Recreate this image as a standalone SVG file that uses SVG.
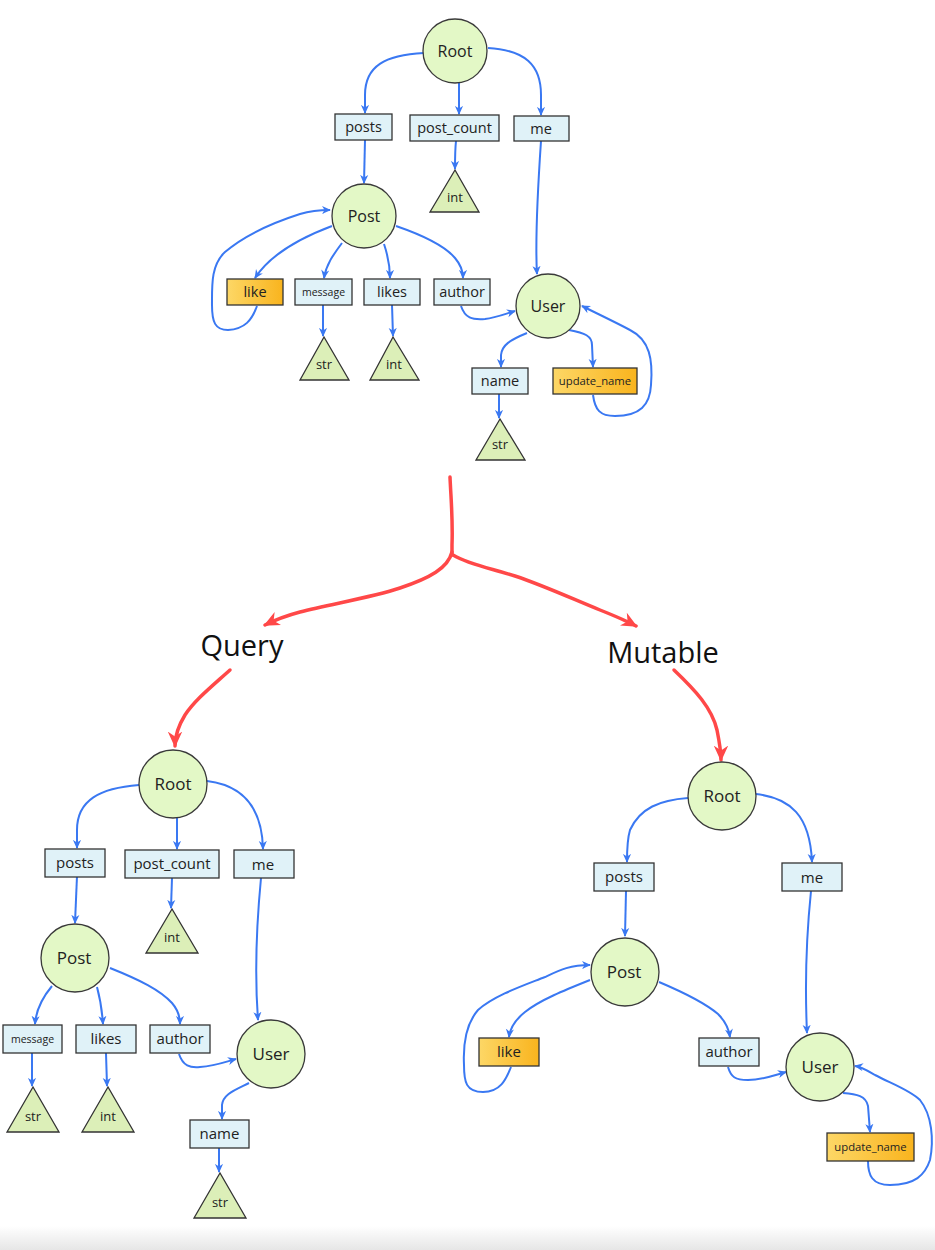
<svg xmlns="http://www.w3.org/2000/svg" width="935" height="1250" viewBox="0 0 935 1250">
<style>
.c{fill:#e3f8c6;stroke:#3a3a3a;stroke-width:1.3}
.r{fill:#e0f2f8;stroke:#333;stroke-width:1.3}
.o{fill:url(#og);stroke:#333;stroke-width:1.3}
.t{fill:#dcefb8;stroke:#333;stroke-width:1.3}
text{font-family:"Open Sans","Noto Sans","Liberation Sans",sans-serif;fill:#222;text-anchor:middle}
.l{font-size:14.5px}
.L{font-size:15px}
.s{font-size:10.5px}
.u{font-size:11.3px}
.n{font-size:16px}
.N{font-size:17px}
.tt{font-size:13px}
.big{font-size:29px;fill:#111}
.e{fill:none;stroke:#3a78f2;stroke-width:2;marker-end:url(#ab)}
.re{fill:none;stroke:#ff4848;stroke-width:3.5;stroke-linecap:round;marker-end:url(#ar)}
.rl{fill:none;stroke:#ff4848;stroke-width:3.5;stroke-linecap:round}
</style>
<defs>
<linearGradient id="og" x1="0" y1="0" x2="1" y2="0"><stop offset="0" stop-color="#fdd766"/><stop offset="1" stop-color="#f9b41e"/></linearGradient>
<linearGradient id="bg" x1="0" y1="0" x2="0" y2="1"><stop offset="0" stop-color="#ffffff"/><stop offset="1" stop-color="#e6e6e6"/></linearGradient>
<marker id="ab" viewBox="0 0 10 10" refX="9" refY="5" markerWidth="9" markerHeight="9" markerUnits="userSpaceOnUse" orient="auto"><path d="M0,0.5 L10,5 L0,9.5 L3,5 z" fill="#3a78f2"/></marker>
<marker id="ar" viewBox="0 0 10 10" refX="9" refY="5" markerWidth="16" markerHeight="16" markerUnits="userSpaceOnUse" orient="auto"><path d="M0,0.5 L10,5 L0,9.5 L3,5 z" fill="#ff4848"/></marker>
</defs>
<rect x="0" y="0" width="935" height="1250" fill="#ffffff"/>
<rect x="0" y="1226" width="935" height="24" fill="url(#bg)"/>

<g id="connectors">
<!-- top graph -->
<path class="e" d="M424,53 C385,55 365,66 365,95 L365,113"/>
<path class="e" d="M459,83 L459,114"/>
<path class="e" d="M488,48 C525,50 541,65 541,95 L541,115"/>
<path class="e" d="M365,140 L364,183"/>
<path class="e" d="M456,141 C455,150 455,160 455,169"/>
<path class="e" d="M541,141 C537,200 535,240 537,274"/>
<path class="e" d="M332,226 C300,238 270,255 255,278"/>
<path class="e" d="M257,306 C252,320 245,329 228,330 C215,330 212,322 212,305 C212,285 211,265 225,252 C245,235 275,222 300,214 C310,211 318,210 330,210"/>
<path class="e" d="M342,243 C333,255 326,265 324,278"/>
<path class="e" d="M384,244 C388,256 390,266 390,278"/>
<path class="e" d="M396,226 C425,236 445,246 455,258 C461,265 463,272 463,278"/>
<path class="e" d="M323,305 L323,336"/>
<path class="e" d="M392,305 L393,336"/>
<path class="e" d="M461,306 C465,318 472,320 485,319 C495,318 505,314 515,311"/>
<path class="e" d="M527,333 C510,340 502,345 501,355 L501,367"/>
<path class="e" d="M499,394 L499,418"/>
<path class="e" d="M569,330 C585,333 592,336 592,345 L593,367"/>
<path class="e" d="M593,395 C595,410 600,416 615,416 C640,416 650,405 651,385 C653,360 650,340 630,330 C615,322 600,315 582,306"/>
<!-- red split -->
<path class="rl" d="M450,477 C451,500 453,520 452,545 C452,550 452,553 452,555"/>
<path class="re" d="M452,552 C448,568 430,578 400,588 C370,598 330,604 300,612 C285,616 275,620 265,625"/>
<path class="re" d="M453,555 C470,565 490,568 515,576 C545,586 575,600 600,610 C615,616 625,620 636,626"/>
<path class="re" d="M230,670 C210,688 195,700 185,715 C177,728 175,738 175,746"/>
<path class="re" d="M674,670 C695,690 712,708 717,730 C720,745 721,752 721,760"/>
<!-- bottom-left graph -->
<path class="e" d="M139,785 C100,788 77,800 77,830 L77,848"/>
<path class="e" d="M177,818 L177,849"/>
<path class="e" d="M207,781 C240,785 262,805 263,849"/>
<path class="e" d="M77,876 L75,923"/>
<path class="e" d="M172,878 L171,908"/>
<path class="e" d="M261,878 C256,930 255,980 258,1020"/>
<path class="e" d="M52,986 C42,998 36,1010 35,1024"/>
<path class="e" d="M97,987 C100,998 102,1010 103,1024"/>
<path class="e" d="M110,968 C140,980 160,990 172,1003 C178,1010 180,1018 180,1024"/>
<path class="e" d="M32,1053 L32,1086"/>
<path class="e" d="M106,1053 L107,1086"/>
<path class="e" d="M179,1054 C183,1066 190,1068 200,1067 C215,1066 225,1062 236,1059"/>
<path class="e" d="M249,1083 C235,1090 223,1094 222,1105 L222,1119"/>
<path class="e" d="M219,1148 L219,1172"/>
<!-- bottom-right graph -->
<path class="e" d="M688,798 C660,800 640,808 630,830 C627,840 627,850 627,862"/>
<path class="e" d="M756,794 C790,798 810,815 812,862"/>
<path class="e" d="M626,891 L625,936"/>
<path class="e" d="M811,891 C806,940 805,990 807,1033"/>
<path class="e" d="M590,980 C565,990 540,1000 525,1012 C515,1020 510,1028 509,1037"/>
<path class="e" d="M511,1067 C506,1080 500,1092 483,1092 C466,1092 464,1082 464,1065 C463,1045 465,1025 478,1010 C495,995 525,985 545,977 C560,970 570,965 590,965"/>
<path class="e" d="M659,982 C685,993 705,1003 718,1014 C726,1022 729,1030 730,1037"/>
<path class="e" d="M728,1067 C731,1077 735,1080 748,1080 C762,1080 772,1076 786,1072"/>
<path class="e" d="M843,1093 C857,1094 866,1096 868,1106 L870,1132"/>
<path class="e" d="M868,1161 C868,1175 872,1185 890,1185 C915,1185 925,1175 930,1160 C934,1140 932,1115 920,1100 C910,1090 890,1083 875,1075 C868,1071 862,1067 855,1066"/>
</g>

<!-- top graph nodes -->
<g id="t-root"><circle class="c" cx="455" cy="51" r="32"/><text class="n" x="455" y="57">Root</text></g>
<g id="t-posts"><rect class="r" x="335" y="114" width="57" height="26"/><text class="l" x="363.5" y="132">posts</text></g>
<g id="t-post_count"><rect class="r" x="410" y="115" width="89" height="26"/><text class="l" x="454.5" y="133">post_count</text></g>
<g id="t-me"><rect class="r" x="514" y="116" width="55" height="25"/><text class="l" x="541" y="134">me</text></g>
<g id="t-int1"><polygon class="t" points="455,170 430,212 479,212"/><text class="tt" x="455" y="202">int</text></g>
<g id="t-post"><circle class="c" cx="364" cy="216" r="32"/><text class="n" x="364" y="222">Post</text></g>
<g id="t-like"><rect class="o" x="227" y="279" width="56" height="26"/><text class="l" x="255" y="297">like</text></g>
<g id="t-message"><rect class="r" x="295" y="279" width="57" height="26"/><text class="s" x="323.5" y="296">message</text></g>
<g id="t-likes"><rect class="r" x="364" y="279" width="56" height="26"/><text class="l" x="392" y="297">likes</text></g>
<g id="t-author"><rect class="r" x="434" y="279" width="56" height="26"/><text class="l" x="462" y="297">author</text></g>
<g id="t-str1"><polygon class="t" points="324,337 300,380 349,380"/><text class="tt" x="324" y="369">str</text></g>
<g id="t-int2"><polygon class="t" points="393,337 370,380 419,380"/><text class="tt" x="394" y="369">int</text></g>
<g id="t-user"><circle class="c" cx="548" cy="306" r="32"/><text class="n" x="548" y="312">User</text></g>
<g id="t-name"><rect class="r" x="472" y="368" width="56" height="26"/><text class="l" x="500" y="386">name</text></g>
<g id="t-update_name"><rect class="o" x="553" y="368" width="84" height="26"/><text class="u" x="595" y="385">update_name</text></g>
<g id="t-str2"><polygon class="t" points="500,419 476,460 525,460"/><text class="tt" x="500" y="449">str</text></g>

<!-- labels -->
<g id="query"><text class="big" x="242" y="656">Query</text></g>
<g id="mutable"><text class="big" x="663" y="663">Mutable</text></g>

<!-- bottom-left graph -->
<g id="q-root"><circle class="c" cx="173" cy="784" r="34"/><text class="N" x="173" y="790">Root</text></g>
<g id="q-posts"><rect class="r" x="45" y="849" width="60" height="28"/><text class="L" x="75" y="868">posts</text></g>
<g id="q-post_count"><rect class="r" x="125" y="850" width="94" height="28"/><text class="L" x="172" y="869">post_count</text></g>
<g id="q-me"><rect class="r" x="234" y="850" width="60" height="28"/><text class="L" x="263" y="870">me</text></g>
<g id="q-int1"><polygon class="t" points="172,909 146,953 198,953"/><text class="tt" x="172" y="942">int</text></g>
<g id="q-post"><circle class="c" cx="75" cy="958" r="34"/><text class="N" x="74" y="964">Post</text></g>
<g id="q-message"><rect class="r" x="3" y="1025" width="59" height="28"/><text class="s" x="32.5" y="1043">message</text></g>
<g id="q-likes"><rect class="r" x="76" y="1025" width="60" height="28"/><text class="L" x="106" y="1044">likes</text></g>
<g id="q-author"><rect class="r" x="150" y="1025" width="60" height="28"/><text class="L" x="180" y="1044">author</text></g>
<g id="q-user"><circle class="c" cx="271" cy="1054" r="34"/><text class="N" x="271" y="1060">User</text></g>
<g id="q-str1"><polygon class="t" points="33,1087 7,1132 59,1132"/><text class="tt" x="33" y="1121">str</text></g>
<g id="q-int2"><polygon class="t" points="108,1087 82,1132 134,1132"/><text class="tt" x="108" y="1121">int</text></g>
<g id="q-name"><rect class="r" x="190" y="1120" width="59" height="28"/><text class="L" x="219.5" y="1139">name</text></g>
<g id="q-str2"><polygon class="t" points="220,1173 194,1218 246,1218"/><text class="tt" x="220" y="1207">str</text></g>

<!-- bottom-right graph -->
<g id="m-root"><circle class="c" cx="722" cy="796" r="34"/><text class="N" x="722" y="802">Root</text></g>
<g id="m-posts"><rect class="r" x="594" y="863" width="60" height="28"/><text class="L" x="624" y="882">posts</text></g>
<g id="m-me"><rect class="r" x="782" y="863" width="60" height="28"/><text class="L" x="812" y="883">me</text></g>
<g id="m-post"><circle class="c" cx="625" cy="972" r="34"/><text class="N" x="624" y="978">Post</text></g>
<g id="m-like"><rect class="o" x="479" y="1038" width="60" height="28"/><text class="L" x="509" y="1057">like</text></g>
<g id="m-author"><rect class="r" x="699" y="1038" width="60" height="28"/><text class="L" x="729" y="1057">author</text></g>
<g id="m-user"><circle class="c" cx="820" cy="1067" r="34"/><text class="N" x="820" y="1073">User</text></g>
<g id="m-update_name"><rect class="o" x="827" y="1133" width="87" height="28"/><text class="u" x="870.5" y="1151">update_name</text></g>
</svg>
